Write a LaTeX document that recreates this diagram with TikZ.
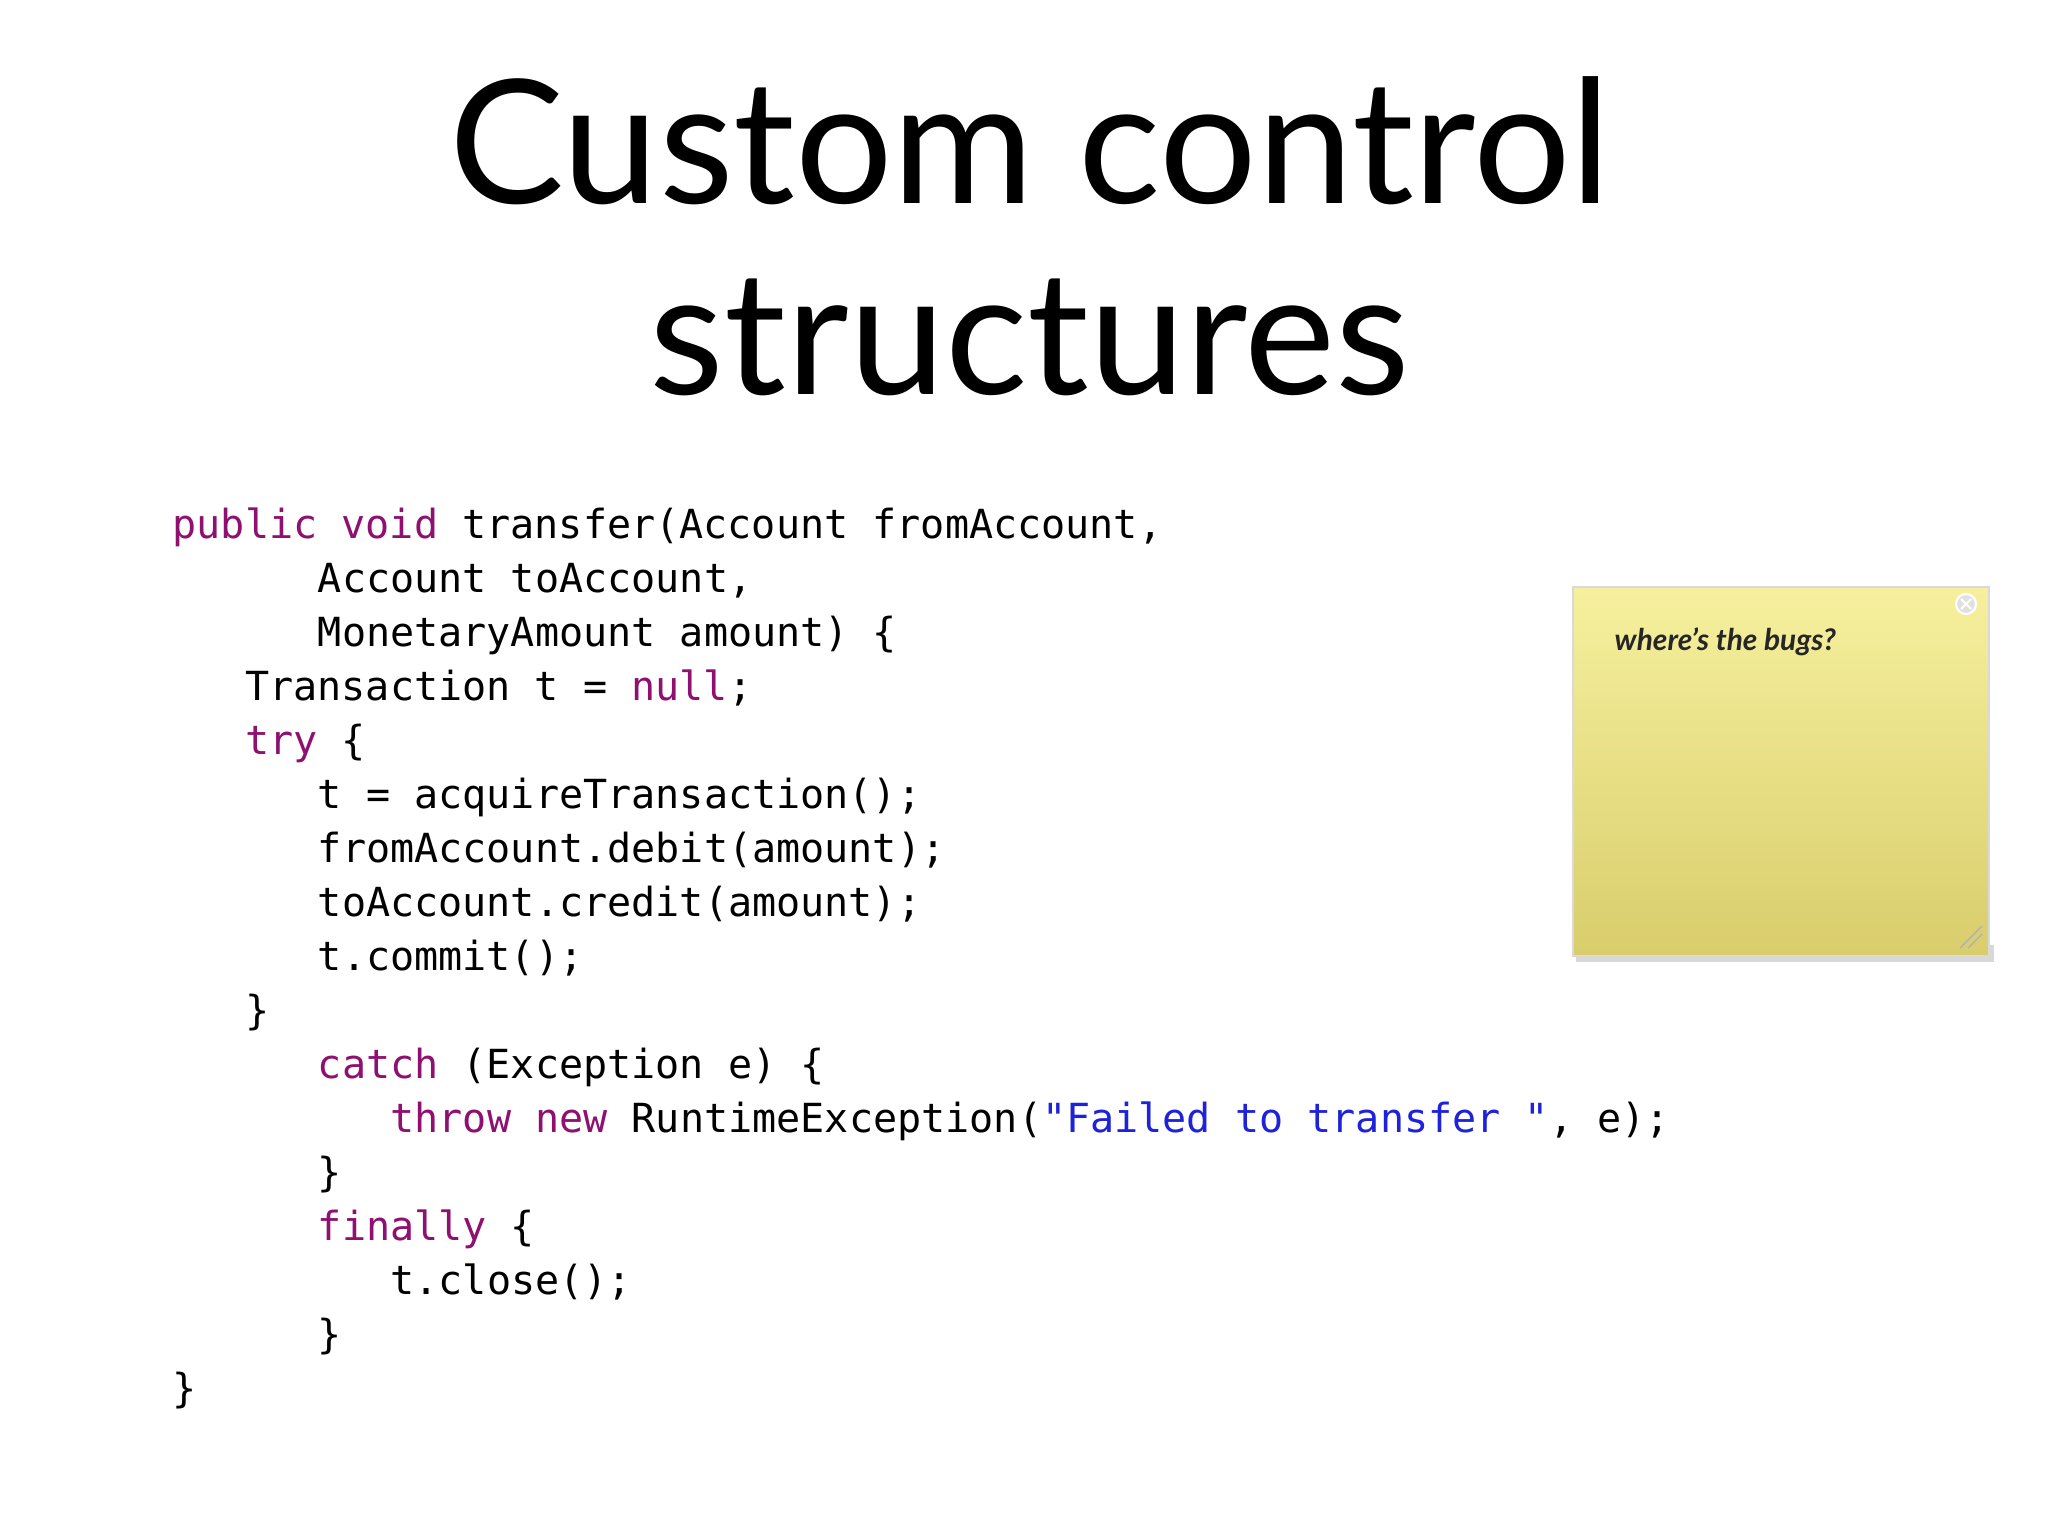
\documentclass[tikz,border=0pt]{standalone}
\usepackage{fontspec}
\setmainfont{Lato}
\setmonofont{DejaVu Sans Mono}
\usetikzlibrary{shadows}
\definecolor{kw}{HTML}{8E1070}
\definecolor{strc}{HTML}{1E22D8}
\definecolor{notetop}{HTML}{F6F09E}
\definecolor{notebot}{HTML}{D9CD6C}
\newcommand{\kwd}[1]{\textcolor{kw}{#1}}
\newcommand{\strg}[1]{\textcolor{strc}{#1}}
\tikzset{
  title/.style={font=\fontsize{49}{55}\selectfont, inner sep=0, anchor=base},
  code/.style={font=\ttfamily\fontsize{11.4}{13}\selectfont, inner sep=0, anchor=base west},
  notetext/.style={font=\bfseries\itshape\fontsize{8.5}{10}\selectfont, inner sep=0, anchor=base west, text=black!85}
}
\begin{document}
\begin{tikzpicture}[x=0.01cm,y=-0.01cm]
\useasboundingbox (0,0) rectangle (2048,1536);
\fill[white] (0,0) rectangle (2048,1536);
\node[title] (t1) at (1030,203) {Custom control};
\node[title] (t2) at (1030,394) {structures};
\def\cw{24.2}
\def\lx{172}
\node[code] (l0) at (\lx,538) {\kwd{public void} transfer(Account fromAccount,};
\node[code] (l1) at (\lx+6*\cw,592) {Account toAccount,};
\node[code] (l2) at (\lx+6*\cw,646) {MonetaryAmount amount) \{};
\node[code] (l3) at (\lx+3*\cw,700) {Transaction t = \kwd{null};};
\node[code] (l4) at (\lx+3*\cw,754) {\kwd{try} \{};
\node[code] (l5) at (\lx+6*\cw,808) {t = acquireTransaction();};
\node[code] (l6) at (\lx+6*\cw,862) {fromAccount.debit(amount);};
\node[code] (l7) at (\lx+6*\cw,916) {toAccount.credit(amount);};
\node[code] (l8) at (\lx+6*\cw,970) {t.commit();};
\node[code] (l9) at (\lx+3*\cw,1024) {\}};
\node[code] (l10) at (\lx+6*\cw,1078) {\kwd{catch} (Exception e) \{};
\node[code] (l11) at (\lx+9*\cw,1132) {\kwd{throw new} RuntimeException(\strg{"Failed to transfer "}, e);};
\node[code] (l12) at (\lx+6*\cw,1186) {\}};
\node[code] (l13) at (\lx+6*\cw,1240) {\kwd{finally} \{};
\node[code] (l14) at (\lx+9*\cw,1294) {t.close();};
\node[code] (l15) at (\lx+6*\cw,1348) {\}};
\node[code] (l16) at (\lx,1402) {\}};
% sticky note
\fill[black!25, opacity=0.6] (1576,945) rectangle (1994,962);
\shade[top color=notetop, bottom color=notebot] (1573,587) rectangle (1989,956);
\draw[black!15] (1573,587) rectangle (1989,956);
\node[notetext] (note) at (1614,650) {where’s the bugs?};
\node[circle, fill=black!12, draw=white, line width=0.6pt, minimum size=0.2cm, inner sep=0] (close) at (1966,604) {};
\draw[white, line width=0.6pt] (1961,599) -- (1971,609) (1961,609) -- (1971,599);
\draw[black!30] (1960,948) -- (1982,926) (1968,948) -- (1982,934);
\end{tikzpicture}
\end{document}
